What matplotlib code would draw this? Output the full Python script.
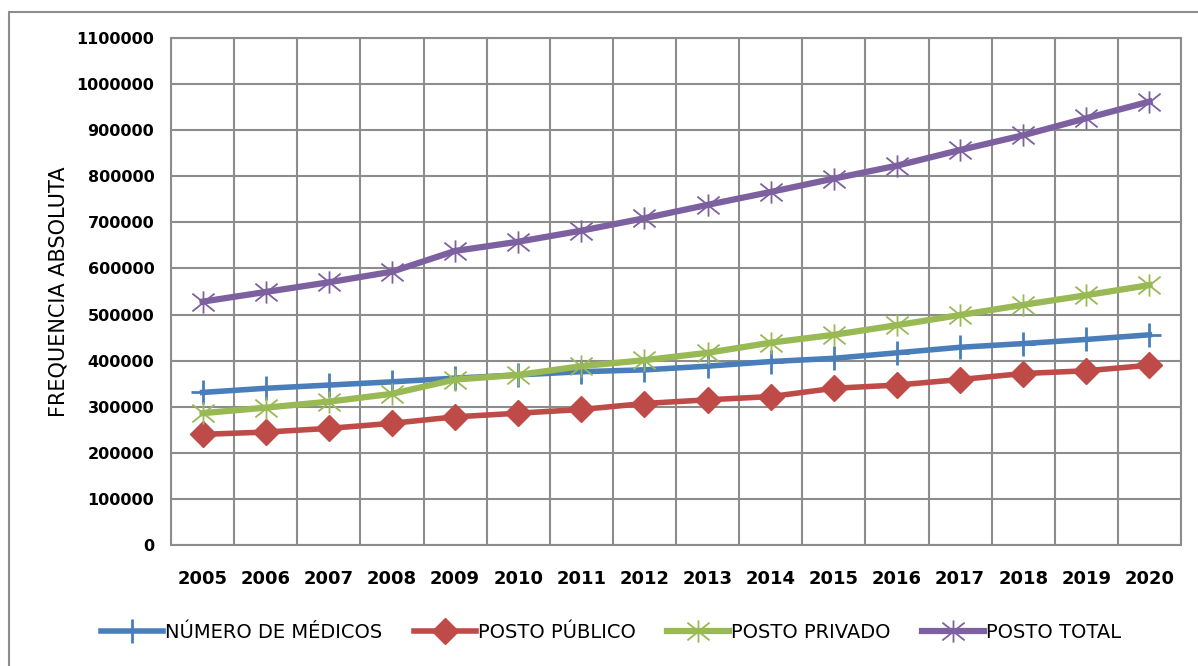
import matplotlib.pyplot as plt
from matplotlib.path import Path
from matplotlib.patches import Rectangle

anos = ['2005', '2006', '2007', '2008', '2009', '2010', '2011', '2012',
        '2013', '2014', '2015', '2016', '2017', '2018', '2019', '2020']
medicos = [331000, 340000, 347000, 354000, 362000, 369000, 376000, 380000,
           388000, 398000, 405000, 417000, 429000, 437000, 446000, 456000]
publico = [240000, 245000, 253000, 264000, 278000, 286000, 294000, 307000,
           315000, 322000, 340000, 347000, 359000, 372000, 378000, 390000]
privado = [286000, 298000, 311000, 328000, 359000, 369000, 388000, 401000,
           417000, 439000, 456000, 477000, 499000, 521000, 542000, 564000]
total = [528000, 549000, 570000, 593000, 638000, 658000, 682000, 709000,
         738000, 766000, 795000, 823000, 857000, 889000, 926000, 962000]

# marcador tipo "estrela" do Excel: X com traço vertical
estrela = Path([(0, -1), (0, 1), (-1, -0.8), (1, 0.8), (-1, 0.8), (1, -0.8)],
               [Path.MOVETO, Path.LINETO] * 3)

cinza = '#8c8c8c'

fig = plt.figure(figsize=(11.98, 6.66), dpi=100)
ax = fig.add_axes([171 / 1198, 1 - 545 / 666, 1010 / 1198, 507 / 666])

x = list(range(len(anos)))
ax.plot(x, medicos, color='#4a7ebb', lw=4, marker='+', ms=17, mew=2,
        label='NÚMERO DE MÉDICOS')
ax.plot(x, publico, color='#be4b48', lw=4, marker='D', ms=13,
        label='POSTO PÚBLICO')
ax.plot(x, privado, color='#98b954', lw=4.5, marker=estrela, ms=16, mew=1.3,
        label='POSTO PRIVADO')
ax.plot(x, total, color='#7d60a0', lw=4.5, marker=estrela, ms=16, mew=1.3,
        label='POSTO TOTAL')

ax.set_xlim(-0.5, len(anos) - 0.5)
ax.set_ylim(0, 1100000)
ax.set_xticks(x)
ax.set_xticklabels(anos, fontsize=13, fontweight='bold')
ax.set_xticks([i - 0.5 for i in range(len(anos) + 1)], minor=True)
ax.set_yticks(range(0, 1100001, 100000))
ax.set_yticklabels([str(v) for v in range(0, 1100001, 100000)],
                   fontsize=11.5, fontweight='bold')
ax.tick_params(axis='both', which='both', length=0)
ax.tick_params(axis='x', pad=18)
ax.tick_params(axis='y', pad=12)
ax.grid(True, axis='x', which='minor', color=cinza, lw=1.5)
ax.grid(True, axis='y', which='major', color=cinza, lw=1.5)
ax.set_axisbelow(True)
for s in ax.spines.values():
    s.set_color(cinza)
    s.set_linewidth(1.5)

ax.set_ylabel('FREQUENCIA ABSOLUTA', fontsize=15)
ax.yaxis.set_label_coords(-0.101, 0.5)

fig.legend(loc='center', bbox_to_anchor=(0.51, 0.051), ncol=4, frameon=False,
           fontsize=14, handlelength=3.2, handletextpad=0.1, columnspacing=1.6,
           numpoints=1)

fig.patches.append(Rectangle((9 / 1198, -0.1), 1.2, 1 - 12 / 666 + 0.1,
                             transform=fig.transFigure, fill=False,
                             edgecolor=cinza, lw=1.5))

fig.savefig('out.png', dpi=100)
